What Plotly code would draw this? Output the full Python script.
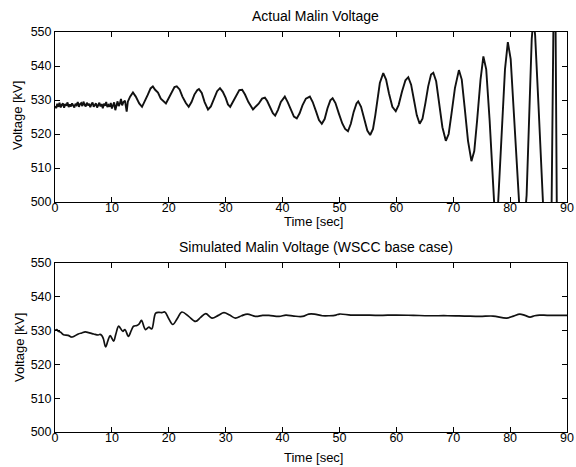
import plotly.graph_objects as go

# ---------------- data ----------------
# Actual Malin voltage: noisy start (0-12 s, 0.2 s steps)
actual_t_start = [round(i * 0.2, 1) for i in range(61)]
actual_v_start = [528.2, 527.6, 528.9, 528.0, 529.2, 527.8, 528.6, 529.0, 527.7, 528.8,
                  528.3, 529.3, 527.9, 528.7, 528.1, 529.0, 528.4, 527.8, 528.9, 528.5,
                  529.4, 528.0, 528.8, 529.1, 528.2, 529.5, 528.6, 528.1, 529.2, 528.4,
                  528.9, 527.9, 528.7, 529.3, 528.0, 528.6, 529.0, 527.8, 528.5, 529.2,
                  528.1, 528.8, 527.6, 528.9, 528.3, 529.4, 527.9, 528.5, 528.0, 529.1,
                  527.5, 528.7, 529.3, 527.0, 528.6, 529.6, 528.2, 528.9, 530.3, 528.4,
                  529.3]
# oscillating part (12.3 - 88.5 s)
actual_t_osc = [12.3, 12.6, 12.8, 13.2, 13.7, 14.2, 14.8, 15.3, 15.8, 16.3, 16.8, 17.2,
                17.6, 18.1, 18.6, 19.1, 19.5, 20.0, 20.5, 21.0, 21.4, 21.9, 22.4, 23.0,
                23.5, 24.0, 24.5, 25.0, 25.3, 25.8, 26.3, 26.9, 27.4, 27.9, 28.5, 29.0,
                29.5, 30.0, 30.4, 30.8, 31.3, 31.9, 32.4, 32.9, 33.4, 34.0, 34.5, 34.8,
                35.3, 35.8, 36.4, 36.9, 37.3, 37.8, 38.3, 38.7, 39.2, 39.7, 40.2, 40.4,
                40.9, 41.5, 42.0, 42.5, 43.0, 43.5, 44.1, 44.8, 45.3, 45.9, 46.4, 46.9,
                47.4, 47.9, 48.4, 48.8, 49.3, 49.9, 50.5, 51.0, 51.5, 52.0, 52.5, 53.0,
                53.3, 53.8, 54.3, 54.9, 55.4, 55.9, 56.3, 56.7, 57.1, 57.7, 58.2, 58.7,
                59.3, 59.9, 60.4, 61.0, 61.6, 62.1, 62.6, 63.1, 63.6, 64.1, 64.6, 65.1,
                65.6, 66.1, 66.5, 67.0, 67.5, 68.1, 68.7, 69.2, 69.7, 70.3, 71.0, 71.5,
                72.0, 72.6, 73.2, 73.7, 74.2, 74.8, 75.3, 75.8, 76.4, 77.0, 77.45, 77.9,
                78.5, 79.1, 79.6, 80.1, 80.7, 81.3, 82.1, 82.9, 83.4, 83.8, 84.1, 84.4,
                85.0, 85.7, 86.6, 87.3, 87.6, 87.8, 88.0, 88.2, 88.5]
actual_v_osc = [529.8, 526.6, 529.5, 531.0, 532.2, 531.0, 529.0, 528.0, 529.6, 531.5, 533.4, 534.0,
                533.0, 532.2, 530.4, 529.6, 529.0, 530.6, 532.4, 533.8, 534.0, 533.1, 531.0, 529.1,
                528.0, 529.4, 531.6, 532.9, 533.2, 532.1, 529.4, 527.2, 528.1, 530.4, 532.6, 533.5,
                532.4, 530.6, 528.7, 528.0, 529.6, 531.4, 532.9, 533.0, 531.6, 529.4, 527.9, 527.2,
                528.1, 528.9, 530.4, 530.7, 529.7, 528.1, 526.1, 525.4, 527.1, 529.4, 530.8, 531.0,
                529.4, 527.1, 525.1, 524.6, 526.1, 528.4, 530.4, 531.0, 529.4, 526.6, 524.1, 523.0,
                524.4, 527.6, 529.9, 530.5, 529.1, 526.0, 523.1, 521.5, 520.8, 523.0, 526.5, 529.0,
                529.6, 528.0, 524.5, 521.0, 519.7, 521.5, 525.5, 530.0, 535.0, 537.9, 536.0, 532.0,
                528.0, 526.7, 528.5, 532.5, 535.8, 536.7, 534.5, 530.0, 525.5, 523.0, 524.5, 529.0,
                534.0, 537.5, 538.0, 535.5, 529.5, 522.0, 518.0, 520.0, 526.0, 533.5, 538.8, 536.0,
                528.0, 518.0, 512.0, 515.0, 524.0, 536.0, 542.8, 539.0, 524.0, 505.0, 492.0, 500.0,
                520.0, 539.0, 547.0, 542.0, 525.0, 505.0, 485.0, 502.0, 528.0, 548.0, 554.0, 549.0,
                528.0, 502.0, 470.0, 500.0, 550.0, 556.0, 550.0, 500.0, 470.0]
actual_t = actual_t_start + actual_t_osc
actual_v = actual_v_start + actual_v_osc

# Simulated Malin voltage (WSCC base case)
sim_t = [0.0, 0.3, 0.6, 1.0, 1.5, 2.3, 2.9, 3.2, 4.1, 4.7, 5.3, 5.9, 6.5, 6.8, 7.6, 7.9,
         8.2, 8.5, 8.9, 9.3, 9.7, 10.3, 10.7, 11.2, 11.9, 12.3, 12.9, 13.4, 13.8, 14.4,
         14.8, 15.2, 15.9, 16.5, 17.0, 17.7, 18.3, 18.8, 19.3, 20.0, 20.7, 21.5, 22.3,
         23.5, 24.7, 25.6, 26.5, 27.6, 28.7, 29.7, 30.7, 31.7, 32.8, 33.8, 35.3, 36.5,
         37.6, 39.4, 40.6, 42.0, 43.5, 44.6, 45.6, 47.0, 48.2, 49.4, 50.0, 52.0, 54.1,
         57.0, 60.0, 63.0, 65.8, 69.0, 72.0, 74.7, 77.0, 79.4, 80.6, 81.7, 82.6, 83.5,
         84.3, 85.2, 86.5, 88.0, 90.0]
sim_v = [530.0, 530.3, 529.8, 529.5, 528.8, 528.6, 528.1, 528.2, 529.0, 529.3, 529.6, 529.4,
         529.1, 529.0, 528.7, 528.9, 528.6, 527.6, 525.2, 527.0, 528.5, 526.9, 529.0, 531.3,
         529.8, 530.3, 528.3, 530.0, 531.3, 531.5, 532.0, 533.0, 530.3, 531.0, 530.5, 535.2,
         535.4, 535.3, 535.5, 533.5, 531.8, 533.6, 535.5, 534.2, 532.7, 533.9, 535.0, 533.7,
         534.5, 535.3, 534.6, 533.7, 534.4, 534.9, 534.2, 534.5, 534.5, 534.2, 534.6, 534.3,
         534.2, 534.9, 534.9, 534.4, 534.4, 534.6, 534.9, 534.6, 534.6, 534.5, 534.6, 534.5,
         534.4, 534.4, 534.3, 534.2, 534.3, 533.7, 534.3, 534.9, 534.5, 534.0, 534.4, 534.6,
         534.5, 534.5, 534.5]

x_ticks = [0, 10, 20, 30, 40, 50, 60, 70, 80, 90]
y_ticks = [500, 510, 520, 530, 540, 550]

titles = ["Actual Malin Voltage", "Simulated Malin Voltage (WSCC base case)"]
x_title = "Time [sec]"
y_title = "Voltage [kV]"

# ---------------- figure ----------------
W, H = 576, 467
FONT = "Liberation Sans, Arial, Helvetica, sans-serif"

fig = go.Figure()
fig.add_trace(go.Scatter(x=actual_t, y=actual_v, mode="lines",
                         line=dict(color="#111111", width=1.9), xaxis="x", yaxis="y",
                         showlegend=False, hoverinfo="skip"))
fig.add_trace(go.Scatter(x=sim_t, y=sim_v, mode="lines", line_shape="spline",
                         line=dict(color="#111111", width=1.7), xaxis="x2", yaxis="y2",
                         showlegend=False, hoverinfo="skip"))

def px_x(p):
    return p / W

def px_y(p):
    return 1 - p / H

x_dom = [px_x(55), px_x(567)]
top_dom = [px_y(202), px_y(32)]
bot_dom = [px_y(432), px_y(263)]

axis_common = dict(showline=True, linecolor="black", linewidth=1, mirror="ticks",
                   ticks="inside", ticklen=5, tickcolor="black", showgrid=False,
                   zeroline=False, automargin=False,
                   tickfont=dict(family=FONT, size=12.5, color="black"))

fig.update_layout(
    width=W, height=H,
    margin=dict(l=0, r=0, t=0, b=0, pad=0, autoexpand=False),
    paper_bgcolor="white", plot_bgcolor="white",
    xaxis=dict(domain=x_dom, range=[0, 90], tickvals=x_ticks, anchor="y",
               ticklabelstandoff=-6, **axis_common),
    yaxis=dict(domain=top_dom, range=[500, 550], tickvals=y_ticks, anchor="x", **axis_common),
    xaxis2=dict(domain=x_dom, range=[0, 90], tickvals=x_ticks, anchor="y2",
                ticklabelstandoff=-6, **axis_common),
    yaxis2=dict(domain=bot_dom, range=[500, 550], tickvals=y_ticks, anchor="x2", **axis_common),
)

ann_font = dict(family=FONT, size=13, color="black")
title_font = dict(family=FONT, size=14, color="black")
annotations = [
    dict(text=titles[0], x=px_x(315), y=px_y(16), font=title_font),
    dict(text=titles[1], x=px_x(316), y=px_y(247), font=title_font),
    dict(text=x_title, x=px_x(313), y=px_y(221), font=ann_font),
    dict(text=x_title, x=px_x(313), y=px_y(457), font=ann_font),
    dict(text=y_title, x=px_x(17), y=px_y(116), font=ann_font, textangle=-90),
    dict(text=y_title, x=px_x(19), y=px_y(348), font=ann_font, textangle=-90),
]
for a in annotations:
    a.update(xref="paper", yref="paper", showarrow=False, xanchor="center", yanchor="middle")
fig.update_layout(annotations=annotations)

# remove the browser's default page margin so the figure fills the window exactly
fig.write_html("out.html",
               config={"displayModeBar": False, "staticPlot": True},
               post_script="document.body.style.margin='0';document.body.style.overflow='hidden';")
